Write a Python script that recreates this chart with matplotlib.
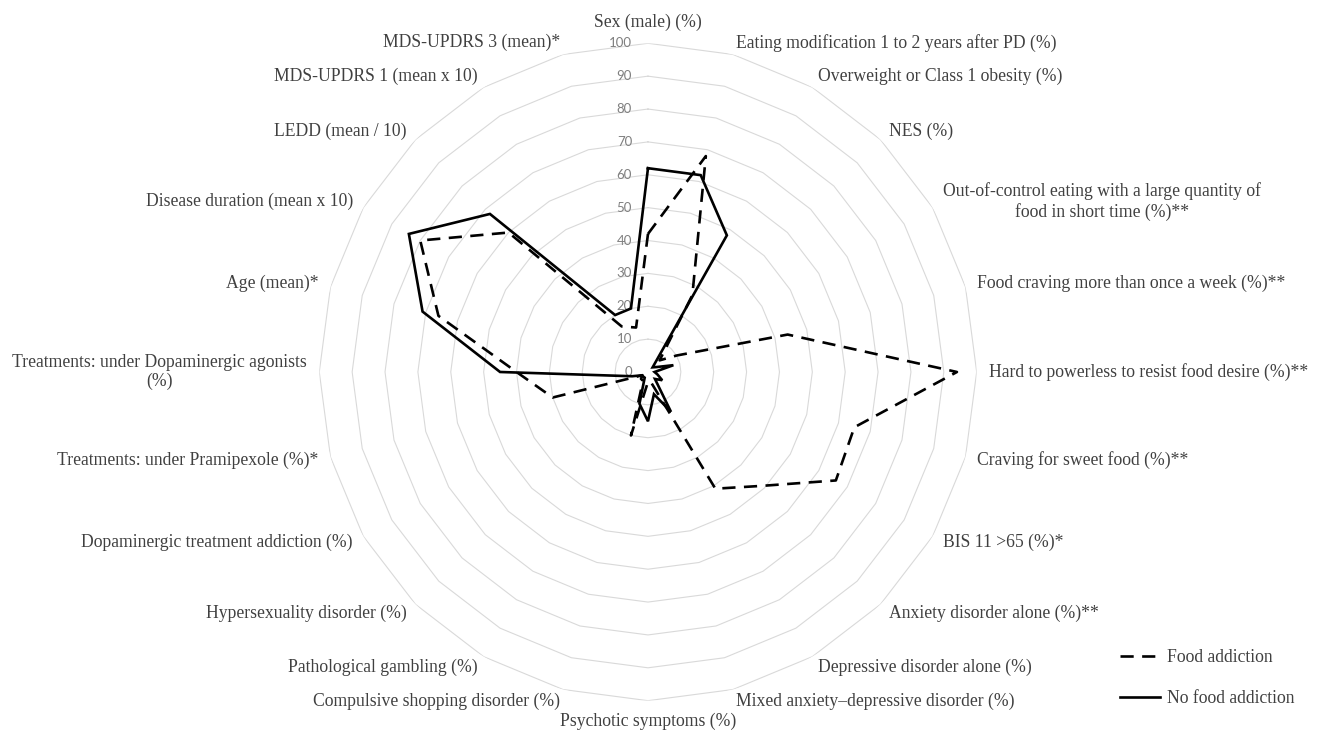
import numpy as np
import matplotlib
matplotlib.use("Agg")
import matplotlib.pyplot as plt
from matplotlib.lines import Line2D

categories = [
    "Sex (male) (%)",
    "Eating modification 1 to 2 years after PD (%)",
    "Overweight or Class 1 obesity (%)",
    "NES (%)",
    "Out-of-control eating with a large quantity of\nfood in short time (%)**",
    "Food craving more than once a week (%)**",
    "Hard to powerless to resist food desire (%)**",
    "Craving for sweet food (%)**",
    "BIS 11 >65 (%)*",
    "Anxiety disorder alone (%)**",
    "Depressive disorder alone (%)",
    "Mixed anxiety\u2013depressive disorder (%)",
    "Psychotic symptoms (%)",
    "Compulsive shopping disorder (%)",
    "Pathological gambling (%)",
    "Hypersexuality disorder (%)",
    "Dopaminergic treatment addiction (%)",
    "Treatments: under Pramipexole (%)*",
    "Treatments: under Dopaminergic agonists\n(%)",
    "Age (mean)*",
    "Disease duration (mean x 10)",
    "LEDD (mean / 10)",
    "MDS-UPDRS 1 (mean x 10)",
    "MDS-UPDRS 3 (mean)*",
]

food_addiction = [42, 68, 27, 5, 10, 44, 94, 65, 66, 49, 41, 3,
                  3, 20, 3, 3, 2, 30, 40, 66, 80, 60, 16, 14]
no_food_addiction = [62, 62, 48, 2, 3, 8, 2, 3, 5, 3, 14, 7,
                     15, 10, 2, 2, 2, 5, 45, 71, 84, 68, 20, 20]

ring_levels = [0, 10, 20, 30, 40, 50, 60, 70, 80, 90, 100]
series_names = ["Food addiction", "No food addiction"]

label_font = "Liberation Serif"
tick_font = "Lato"
text_color = "#404040"
label_size = 12.7

fig = plt.figure(figsize=(13.22, 7.35), dpi=100)
ax = fig.add_axes([0.2415, 0.0467, 0.4973, 0.8944], projection="polar")
ax.set_theta_zero_location("N")
ax.set_theta_direction(-1)
ax.set_ylim(0, 100)
ax.axis("off")

n = len(categories)
theta = np.arange(n) * 2 * np.pi / n
theta_closed = np.append(theta, theta[0])

for lvl in ring_levels[1:]:
    ax.plot(theta_closed, [lvl] * (n + 1), color="#d9d9d9", lw=0.8, zorder=1)

for lvl in ring_levels:
    ax.annotate(str(lvl), xy=(0, lvl), xytext=(-11.5, 0), textcoords="offset points",
                ha="right", va="center", fontsize=9.5, color="#7f7f7f",
                family=tick_font, zorder=2)

dash_style = (0, (5, 3.2))
fa = np.append(food_addiction, food_addiction[0])
nfa = np.append(no_food_addiction, no_food_addiction[0])
ax.plot(theta_closed, fa, color="black", lw=1.9, linestyle=dash_style,
        zorder=3, solid_joinstyle="miter")
ax.plot(theta_closed, nfa, color="black", lw=1.9, linestyle="-", zorder=4,
        solid_joinstyle="miter")

for i, lab in enumerate(categories):
    deg = i * 360 / n
    if deg == 0:
        ha, va = "center", "bottom"
    elif deg == 180:
        ha, va = "center", "top"
    elif deg < 180:
        ha, va = "left", "center"
    else:
        ha, va = "right", "center"
    ax.text(theta[i], 103.7, lab, ha=ha, va=va, multialignment="center",
            fontsize=label_size, family=label_font, color=text_color)

handles = [Line2D([0], [0], color="black", lw=1.9, linestyle=dash_style),
           Line2D([0], [0], color="black", lw=1.9, linestyle="-")]
leg = fig.legend(handles, series_names, loc="upper left",
                 bbox_to_anchor=(1120 / 1322, 1 - 649 / 735), frameon=False,
                 prop={"family": label_font, "size": label_size},
                 handlelength=2.25, handletextpad=0.4, labelspacing=1.35,
                 borderpad=0, borderaxespad=0)
for t in leg.get_texts():
    t.set_color(text_color)

fig.savefig("out.png", dpi=100)
